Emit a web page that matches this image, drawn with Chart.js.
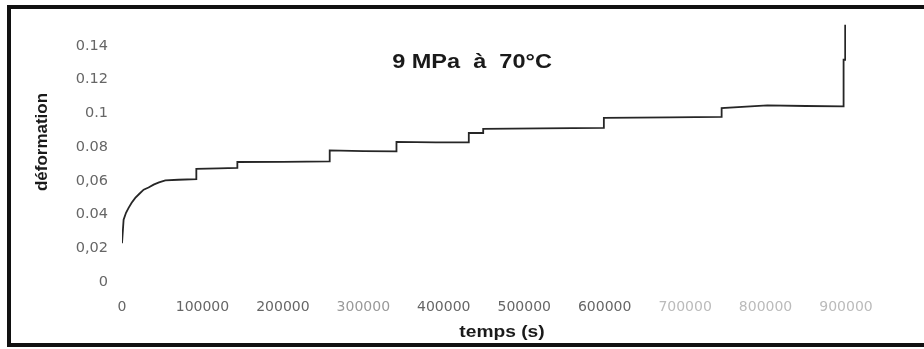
<!DOCTYPE html>
<html>
<head>
<meta charset="utf-8">
<script src="https://cdn.jsdelivr.net/npm/chart.js@4/dist/chart.umd.min.js"></script>
<style>
  html, body { margin: 0; padding: 0; background: #fff; }
  #wrap { position: relative; width: 924px; height: 349px; overflow: hidden; }
  #frame { position: absolute; left: 7px; top: 5px; width: 930px; height: 334px;
           border: 4px solid #111; border-right: none; pointer-events: none; }
</style>
</head>
<body>
<div id="wrap">
  <canvas id="creepChart" width="924" height="349"></canvas>
  <div id="frame"></div>
</div>
<script>
// essai de fluage : 9 MPa a 70°C
var temps = [0, 2000, 5000, 8200, 12000, 16500, 21000, 26900, 33000, 39300, 46000, 53900, 70000,
    92400, 92400, 120000, 143400, 143400, 200000, 258200, 258200, 300000, 341200, 341200,
    390000, 431100, 431100, 449000, 449000, 520000, 599000, 599000, 680000, 745400, 745400,
    802200, 850000, 897000, 897000, 899000, 899000];
var deformation = [0.023, 0.0369, 0.041, 0.0439, 0.047, 0.0498, 0.052, 0.0547, 0.056, 0.0577, 0.059, 0.0602, 0.0606,
    0.061, 0.067, 0.0673, 0.0676, 0.0711, 0.0712, 0.0715, 0.078, 0.0775, 0.0774, 0.083,
    0.0828, 0.0827, 0.0883, 0.0883, 0.0908, 0.091, 0.0913, 0.0972, 0.0975, 0.0978, 0.1031,
    0.1047, 0.1043, 0.1041, 0.1317, 0.1317, 0.1525];

var xTickLabels = ['0', '100000', '200000', '300000', '400000', '500000', '600000', '700000', '800000', '900000'];
var xTickColors = ['#666', '#666', '#666', '#999', '#666', '#666', '#666', '#bbb', '#bbb', '#bbb'];
var yTickLabels = ['0', '0,02', '0.04', '0,06', '0.08', '0.1', '0.12', '0.14', ''];

var titre = '9 MPa  à  70°C';
var titreX = 'temps (s)';
var titreY = 'déformation';

var points = [];
for (var i = 0; i < temps.length; i++) {
    points.push({ x: temps[i], y: deformation[i] });
}

// textes dessines a la main (titre dans la zone de trace)
var textes = {
    id: 'textes',
    afterDraw: function (chart) {
        var ctx = chart.ctx;
        ctx.save();
        ctx.fillStyle = '#1a1a1a';
        ctx.textAlign = 'center';
        ctx.textBaseline = 'alphabetic';

        ctx.save();
        ctx.translate(472, 68);
        ctx.scale(1.12, 1);
        ctx.font = 'bold 21px "Liberation Sans", Arial, sans-serif';
        ctx.fillText(titre, 0, 0);
        ctx.restore();

        ctx.save();
        ctx.translate(502, 337);
        ctx.scale(1.13, 1);
        ctx.font = 'bold 17px "Liberation Sans", Arial, sans-serif';
        ctx.fillText(titreX, 0, 0);
        ctx.restore();

        ctx.save();
        ctx.translate(47, 142);
        ctx.rotate(-Math.PI / 2);
        ctx.font = 'bold 17px "Liberation Sans", Arial, sans-serif';
        ctx.fillText(titreY, 0, 0);
        ctx.restore();

        ctx.restore();
    }
};

var ctx = document.getElementById('creepChart').getContext('2d');
var creepChart = new Chart(ctx, {
    type: 'line',
    data: {
        datasets: [{
            data: points,
            borderColor: '#262626',
            borderWidth: 1.8,
            pointRadius: 0,
            tension: 0,
            fill: false
        }]
    },
    plugins: [textes],
    options: {
        responsive: false,
        animation: false,
        events: [],
        layout: { padding: { left: 0, right: 78, top: 12, bottom: 0 } },
        plugins: {
            legend: { display: false },
            tooltip: { enabled: false }
        },
        scales: {
            x: {
                type: 'linear',
                min: 0,
                max: 900000,
                grid: { display: false, drawTicks: false },
                border: { display: false },
                afterFit: function (scale) { scale.height = 67; },
                ticks: {
                    stepSize: 100000,
                    padding: 17,
                    maxRotation: 0,
                    autoSkip: false,
                    font: { family: '"DejaVu Sans"', size: 14 },
                    color: function (c) { return xTickColors[c.index] || '#666'; },
                    callback: function (value, index) { return xTickLabels[index]; }
                }
            },
            y: {
                min: 0,
                max: 0.16,
                grid: { display: false, drawTicks: false },
                border: { display: false },
                afterFit: function (scale) {
                    scale.width = 122;
                    scale.paddingTop = 0;
                },
                ticks: {
                    stepSize: 0.02,
                    padding: 14,
                    font: { family: '"DejaVu Sans"', size: 14.5 },
                    color: '#666',
                    callback: function (value, index) { return yTickLabels[index]; }
                }
            }
        }
    }
});
</script>
</body>
</html>
